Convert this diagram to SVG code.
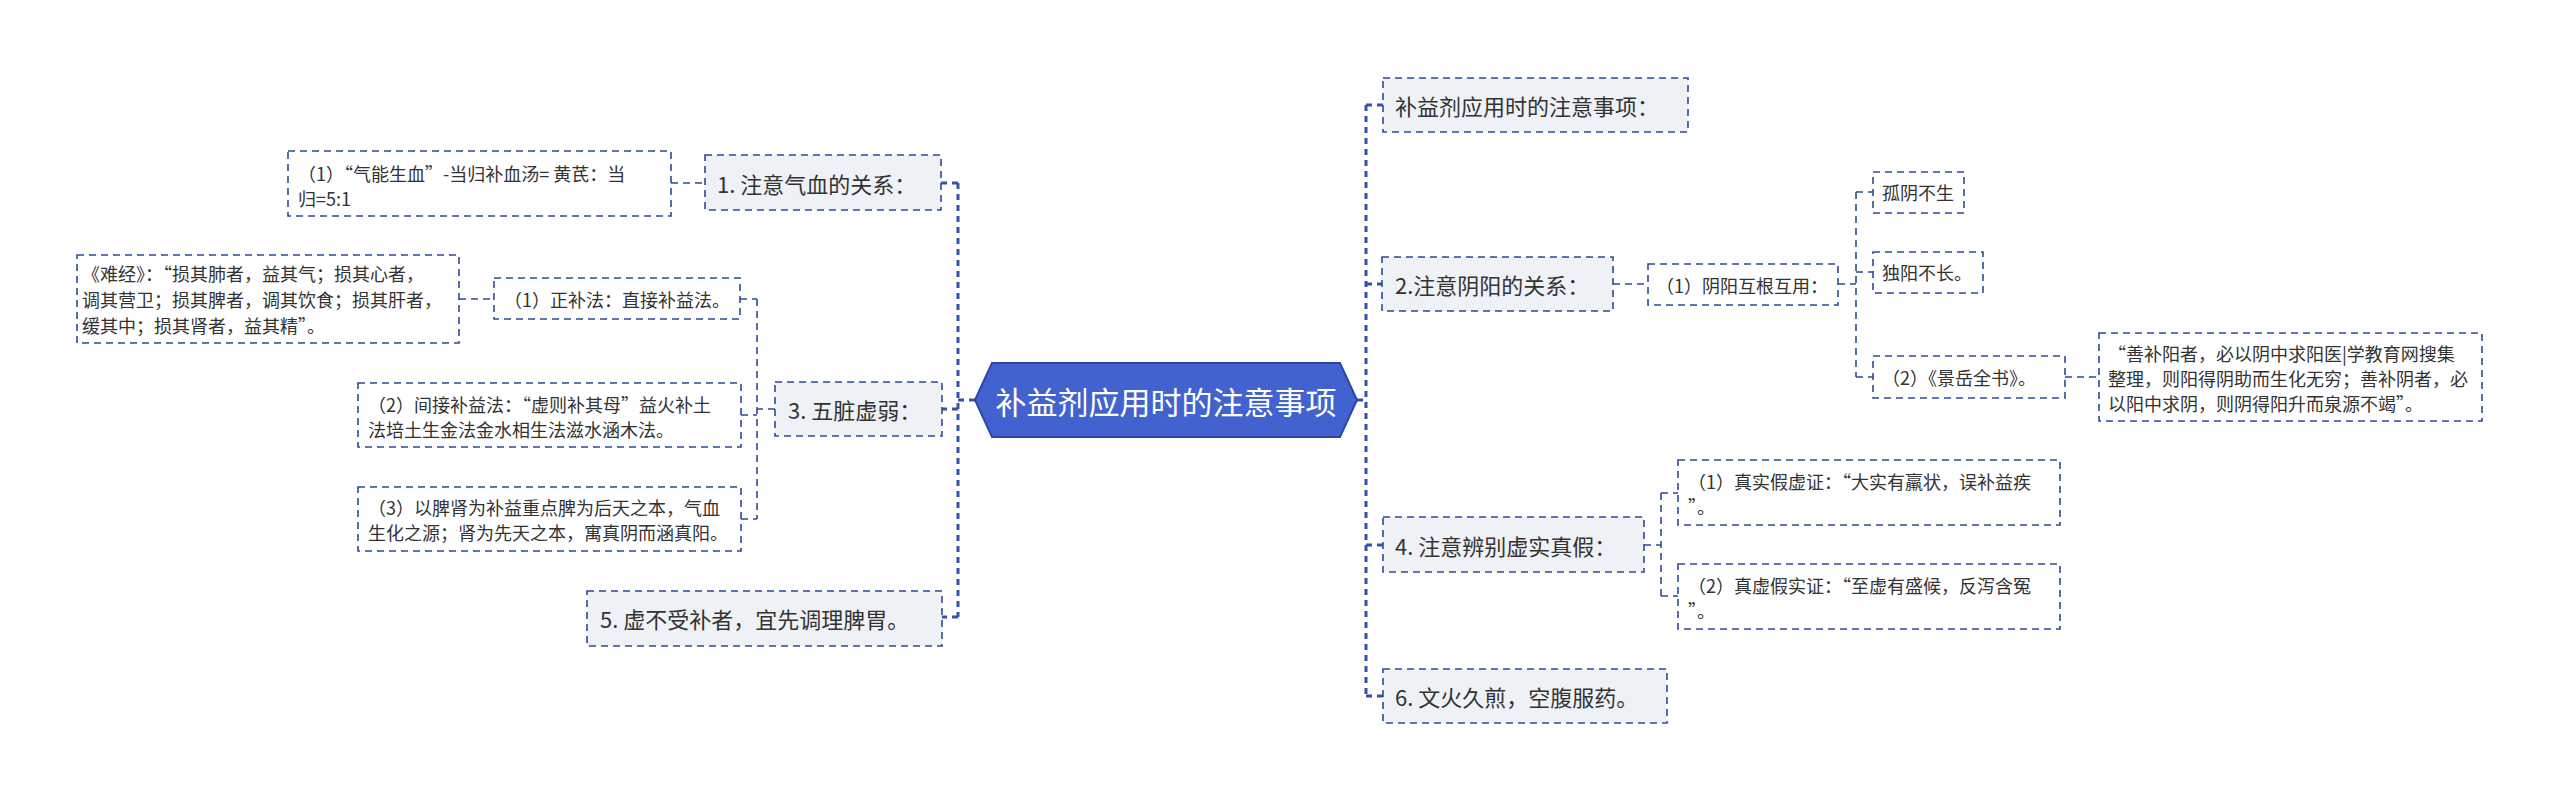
<svg xmlns="http://www.w3.org/2000/svg" width="2560" height="801" viewBox="0 0 2560 801">
<style>
.t{font-family:"Noto Sans CJK SC","Noto Sans",sans-serif;fill:#333;dominant-baseline:central}
.l1 rect{fill:#eef1f6;stroke:#2e4a96;stroke-width:1.6;stroke-dasharray:7 5}
.l1 text{font-size:22px}
.lf rect{fill:#fff;stroke:#2e4a96;stroke-width:1.6;stroke-dasharray:7 5}
.lf text{font-size:18px}
.trunk{fill:none;stroke:#3652b0;stroke-width:3;stroke-dasharray:6 5}
.sub{fill:none;stroke:#2e4a96;stroke-width:1.6;stroke-dasharray:7 5}
</style>
<rect width="2560" height="801" fill="#fff"/>
<g id="connectors">
<path class="trunk" d="M975 400H958M958 183V617M958 183H941M958 409H942M958 617H942"/>
<path class="trunk" d="M1357 400H1366M1366 105V696M1366 105H1383M1366 284H1382M1366 545H1383M1366 696H1383"/>
<path class="sub" d="M671 183H705"/>
<path class="sub" d="M775 409H757M757 299V519M740 299H757M741 415H757M741 519H757M459 299H494"/>
<path class="sub" d="M1613 284H1648M1838 284H1856M1856 192V377M1856 192H1873M1856 272H1873M1856 377H1873M2065 377H2099"/>
<path class="sub" d="M1644 545H1661M1661 493V596M1661 493H1678M1661 596H1678"/>
</g>
<g id="root">
<polygon points="975,400 992,363 1340,363 1357,400 1340,437 992,437" fill="#4263cf" stroke="#2d47a8" stroke-width="2"/>
<text class="t" x="1166" y="400" text-anchor="middle" style="fill:#fff;font-size:31px">补益剂应用时的注意事项</text>
</g>
<g id="n1" class="l1"><rect x="705" y="155" width="236" height="55"/><text class="t" x="717" y="183">1. 注意气血的关系：</text></g>
<g id="n1a" class="lf"><rect x="288" y="151" width="383" height="65"/><text class="t" x="298" y="173">（1）“气能生血”-当归补血汤= 黄芪：当</text><text class="t" x="298" y="198">归=5:1</text></g>
<g id="n3" class="l1"><rect x="775" y="382" width="167" height="54"/><text class="t" x="788" y="409">3. 五脏虚弱：</text></g>
<g id="n3a" class="lf"><rect x="494" y="278" width="246" height="41"/><text class="t" x="504" y="299">（1）正补法：直接补益法。</text></g>
<g id="n3a1" class="lf"><rect x="77" y="255" width="382" height="88"/><text class="t" x="82" y="273">《难经》：“损其肺者，益其气；损其心者，</text><text class="t" x="82" y="299">调其营卫；损其脾者，调其饮食；损其肝者，</text><text class="t" x="82" y="325">缓其中；损其肾者，益其精”。</text></g>
<g id="n3b" class="lf"><rect x="358" y="383" width="383" height="64"/><text class="t" x="368" y="404">（2）间接补益法：“虚则补其母”益火补土</text><text class="t" x="368" y="429">法培土生金法金水相生法滋水涵木法。</text></g>
<g id="n3c" class="lf"><rect x="358" y="487" width="383" height="64"/><text class="t" x="368" y="507">（3）以脾肾为补益重点脾为后天之本，气血</text><text class="t" x="368" y="532">生化之源；肾为先天之本，寓真阴而涵真阳。</text></g>
<g id="n5" class="l1"><rect x="587" y="591" width="355" height="55"/><text class="t" x="600" y="618">5. 虚不受补者，宜先调理脾胃。</text></g>
<g id="r0" class="l1"><rect x="1383" y="78" width="305" height="54"/><text class="t" x="1395" y="105">补益剂应用时的注意事项：</text></g>
<g id="r2" class="l1"><rect x="1382" y="257" width="231" height="54"/><text class="t" x="1395" y="284">2.注意阴阳的关系：</text></g>
<g id="r2a" class="lf"><rect x="1648" y="264" width="190" height="41"/><text class="t" x="1656" y="284.5">（1）阴阳互根互用：</text></g>
<g id="r2a1" class="lf"><rect x="1873" y="172" width="91" height="41"/><text class="t" x="1882" y="192">孤阴不生</text></g>
<g id="r2a2" class="lf"><rect x="1873" y="252" width="110" height="41"/><text class="t" x="1882" y="272">独阳不长。</text></g>
<g id="r2b" class="lf"><rect x="1873" y="356" width="192" height="42"/><text class="t" x="1882" y="377">（2）《景岳全书》。</text></g>
<g id="r2b1" class="lf"><rect x="2099" y="333" width="383" height="88"/><text class="t" x="2108" y="353">“善补阳者，必以阴中求阳医|学教育网搜集</text><text class="t" x="2108" y="378">整理，则阳得阴助而生化无穷；善补阴者，必</text><text class="t" x="2108" y="403">以阳中求阴，则阴得阳升而泉源不竭”。</text></g>
<g id="r4" class="l1"><rect x="1383" y="517" width="261" height="55"/><text class="t" x="1395" y="545">4. 注意辨别虚实真假：</text></g>
<g id="r4a" class="lf"><rect x="1678" y="460" width="382" height="65"/><text class="t" x="1688" y="481">（1）真实假虚证：“大实有羸状，误补益疾</text><text class="t" x="1688" y="506">”。</text></g>
<g id="r4b" class="lf"><rect x="1678" y="564" width="382" height="65"/><text class="t" x="1688" y="585">（2）真虚假实证：“至虚有盛候，反泻含冤</text><text class="t" x="1688" y="610">”。</text></g>
<g id="r6" class="l1"><rect x="1383" y="669" width="284" height="54"/><text class="t" x="1395" y="696">6. 文火久煎，空腹服药。</text></g>
</svg>
